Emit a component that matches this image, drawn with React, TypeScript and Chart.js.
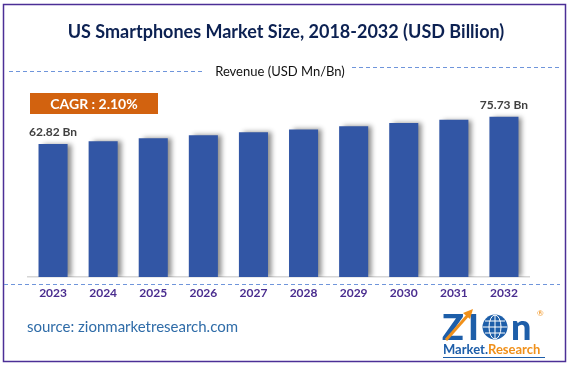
import React, { useEffect, useRef } from "react";
import { Chart, registerables } from "chart.js";

Chart.register(...registerables);

const years = ["2023", "2024", "2025", "2026", "2027", "2028", "2029", "2030", "2031", "2032"];
const revenue = [62.82, 64.1, 65.5, 66.9, 68.3, 69.7, 71.2, 72.7, 74.2, 75.73];
const valueLabels = ["62.82 Bn", "", "", "", "", "", "", "", "", "75.73 Bn"];
const titleText = "US Smartphones Market Size, 2018-2032 (USD Billion)";
const subtitleText = "Revenue (USD Mn/Bn)";
const cagrText = "CAGR : 2.10%";
const sourceText = "source: zionmarketresearch.com";

const FONT = "Lato, 'Open Sans', 'Liberation Sans', sans-serif";

function dashed(ctx: CanvasRenderingContext2D, x1: number, y1: number, x2: number, y2: number) {
  ctx.save();
  ctx.strokeStyle = "#6f95db";
  ctx.lineWidth = 1;
  ctx.setLineDash([4, 3]);
  ctx.beginPath();
  ctx.moveTo(x1, y1 + 0.5);
  ctx.lineTo(x2, y2 + 0.5);
  ctx.stroke();
  ctx.restore();
}

const decorPlugin = {
  id: "decor",
  beforeDraw(chart: any) {
    const ctx: CanvasRenderingContext2D = chart.ctx;
    ctx.save();
    ctx.fillStyle = "#ffffff";
    ctx.fillRect(0, 0, chart.width, chart.height);
    // frame
    ctx.strokeStyle = "#4b2f96";
    ctx.lineWidth = 1.5;
    ctx.strokeRect(3.5, 4.5, 562, 357);
    // title
    ctx.fillStyle = "#0c2152";
    ctx.font = `bold 18px ${FONT}`;
    ctx.textAlign = "center";
    ctx.textBaseline = "middle";
    ctx.fillText(titleText, 286, 32);
    // subtitle + dashed lines
    ctx.fillStyle = "#111111";
    ctx.font = `13px ${FONT}`;
    ctx.fillText(subtitleText, 280, 72);
    dashed(ctx, 9, 71, 202, 71);
    dashed(ctx, 352, 67, 560, 67);
    // CAGR box
    ctx.fillStyle = "#d2620f";
    ctx.fillRect(30, 93, 128, 21);
    ctx.fillStyle = "#ffffff";
    ctx.font = `bold 14px ${FONT}`;
    ctx.fillText(cagrText, 94, 104);
    // bottom dashed line
    dashed(ctx, 4, 284, 560, 284);
    // source
    ctx.textAlign = "left";
    ctx.fillStyle = "#2f6ca8";
    ctx.font = `15px ${FONT}`;
    ctx.fillText(sourceText, 27, 327);
    // logo
    const blue = "#1d5ea9";
    const orange = "#f0901a";
    ctx.fillStyle = blue;
    ctx.font = `900 36px ${FONT}`;
    ctx.textBaseline = "alphabetic";
    ctx.fillText("Z", 442, 340);
    ctx.fillText("I", 468, 340);
    ctx.fillText("n", 511, 340);
    // globe
    ctx.beginPath();
    ctx.arc(495, 327, 12.5, 0, Math.PI * 2);
    ctx.fill();
    ctx.strokeStyle = "#ffffff";
    ctx.lineWidth = 1;
    ctx.beginPath();
    ctx.ellipse(495, 327, 6, 12, 0, 0, Math.PI * 2);
    ctx.moveTo(483, 327);
    ctx.lineTo(507, 327);
    ctx.moveTo(485, 321);
    ctx.lineTo(505, 321);
    ctx.moveTo(485, 333);
    ctx.lineTo(505, 333);
    ctx.moveTo(495, 315);
    ctx.lineTo(495, 339);
    ctx.stroke();
    // arrow
    ctx.strokeStyle = orange;
    ctx.lineWidth = 3;
    ctx.beginPath();
    ctx.moveTo(446, 340);
    ctx.lineTo(469, 314);
    ctx.stroke();
    ctx.fillStyle = orange;
    ctx.beginPath();
    ctx.moveTo(473, 309);
    ctx.lineTo(463, 313);
    ctx.lineTo(470, 319);
    ctx.closePath();
    ctx.fill();
    // registered mark
    ctx.fillStyle = orange;
    ctx.font = `8px ${FONT}`;
    ctx.fillText("®", 537, 316);
    // Market.Research
    ctx.font = `bold 13px ${FONT}`;
    ctx.fillStyle = blue;
    ctx.fillText("Market.", 443, 354);
    const w = ctx.measureText("Market.").width;
    ctx.fillStyle = orange;
    ctx.fillText("Research", 443 + w, 354);
    ctx.strokeStyle = blue;
    ctx.lineWidth = 1;
    ctx.beginPath();
    ctx.moveTo(443, 357.5);
    ctx.lineTo(545, 357.5);
    ctx.stroke();
    ctx.restore();
  },
  beforeDatasetsDraw(chart: any) {
    const ctx = chart.ctx;
    ctx.save();
    ctx.shadowColor = "rgba(0,0,0,0.45)";
    ctx.shadowBlur = 5;
    ctx.shadowOffsetX = 4;
    ctx.shadowOffsetY = 0;
  },
  afterDatasetsDraw(chart: any) {
    const ctx = chart.ctx;
    ctx.restore();
    const meta = chart.getDatasetMeta(0);
    ctx.save();
    ctx.fillStyle = "#404040";
    ctx.font = `bold 12px ${FONT}`;
    ctx.textAlign = "center";
    ctx.textBaseline = "middle";
    meta.data.forEach((bar: any, i: number) => {
      const t = valueLabels[i];
      if (t) ctx.fillText(t, bar.x, bar.y - 12);
    });
    ctx.restore();
  },
};

export default function App() {
  const ref = useRef<HTMLCanvasElement>(null);
  useEffect(() => {
    if (!ref.current) return;
    const chart = new Chart(ref.current, {
      type: "bar",
      data: {
        labels: years,
        datasets: [
          {
            data: revenue,
            backgroundColor: "#3256a5",
            borderWidth: 0,
            barPercentage: 0.58,
            categoryPercentage: 1,
          },
        ],
      },
      options: {
        responsive: false,
        animation: false,
        devicePixelRatio: 1,
        layout: { padding: { left: 28, right: 40, top: 97, bottom: 55.6 } },
        plugins: { legend: { display: false }, tooltip: { enabled: false }, title: { display: false } },
        scales: {
          x: {
            grid: { display: false, drawTicks: false },
            border: { display: true, color: "#d6d6d6", width: 1.5 },
            ticks: { color: "#4a2d8f", font: { family: FONT, size: 12, weight: "bold" }, padding: 9 },
          },
          y: { display: false, min: 0, max: 85 },
        },
      },
      plugins: [decorPlugin],
    });
    return () => chart.destroy();
  }, []);
  return (
    <div style={{ position: "absolute", left: 0, top: 0, width: 569, height: 365 }}>
      <canvas ref={ref} width={569} height={365} style={{ display: "block" }} />
    </div>
  );
}
